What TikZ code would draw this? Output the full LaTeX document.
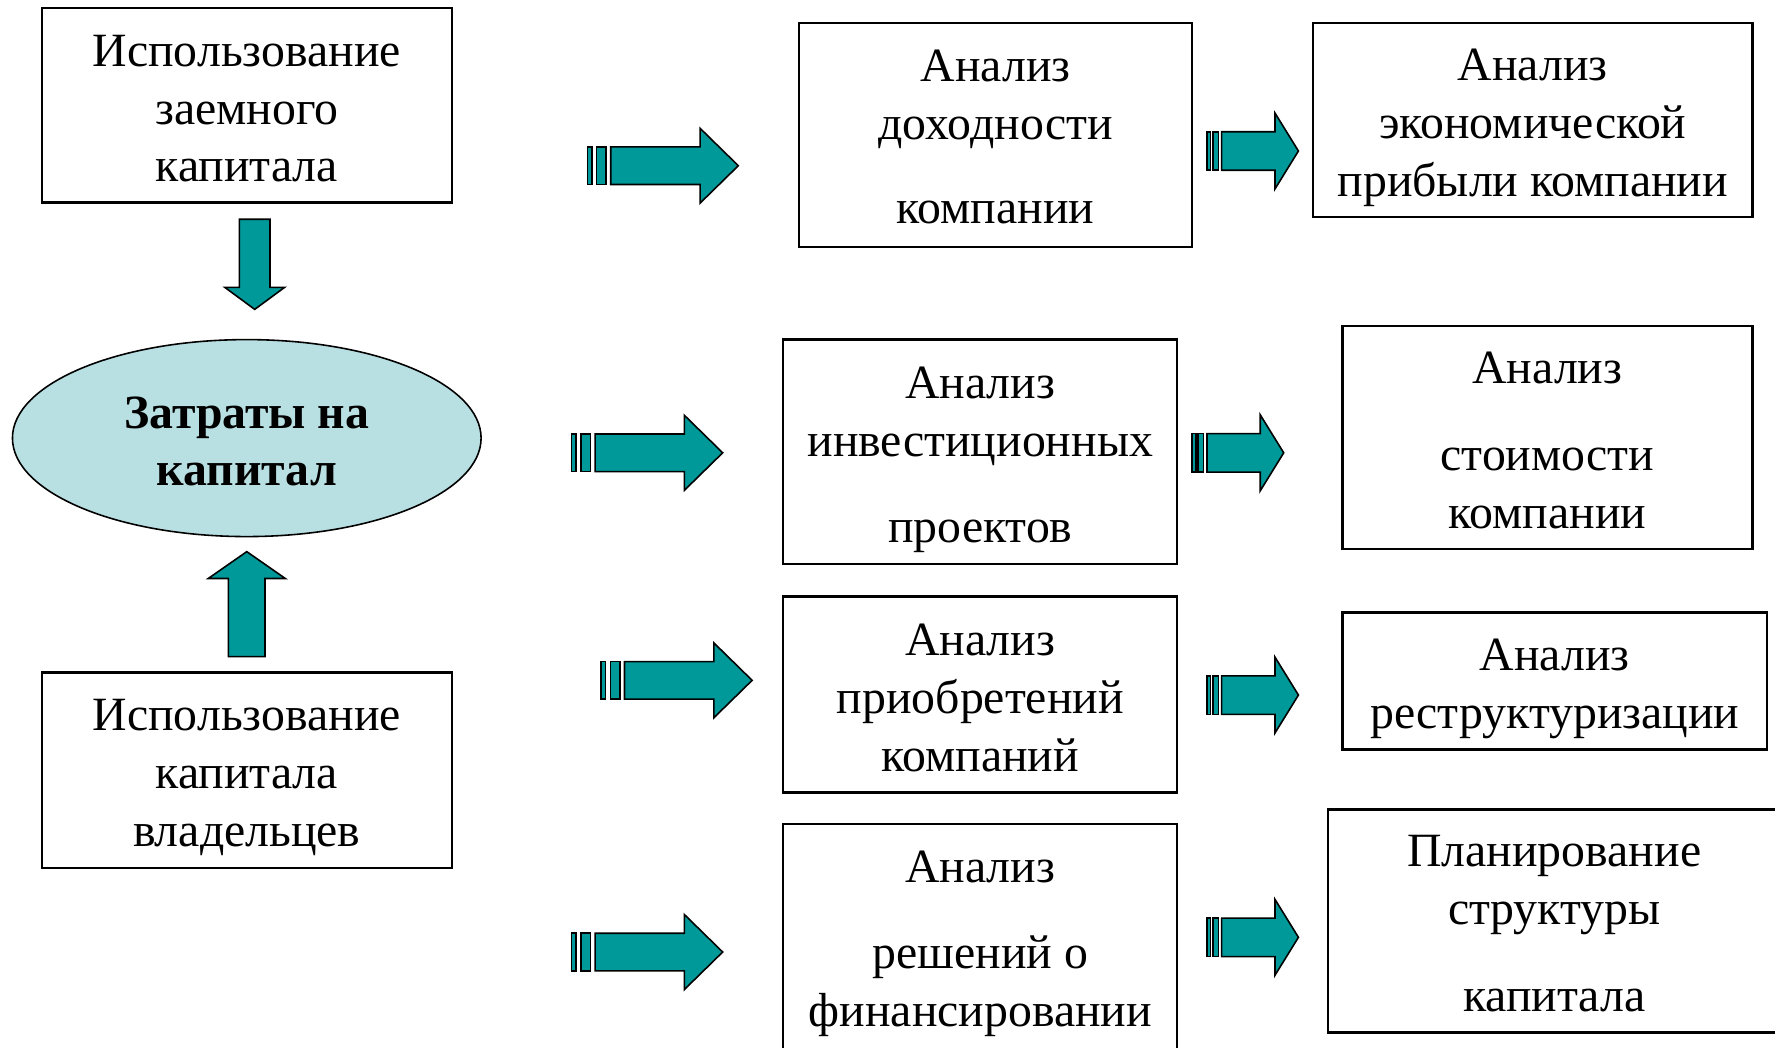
\documentclass[tikz,border=0pt]{standalone}
\usepackage{fontspec}
\setmainfont{Liberation Serif}
\usetikzlibrary{shapes.geometric}
\definecolor{tealA}{RGB}{0,153,153}
\definecolor{ellfill}{RGB}{184,224,227}
\newcommand\bigarr[2]{%
  \begin{scope}[shift={(#1,#2)}]
    \draw[blk] (0,-16.6) rectangle (4,16.6);
    \draw[blk] (8.3,-16.6) rectangle (16.5,16.6);
    \draw[blk] (20.7,-16.6) -- (99.6,-16.6) -- (99.6,-33.1) -- (133.4,0) -- (99.6,33.1) -- (99.6,16.6) -- (20.7,16.6) -- cycle;
  \end{scope}}
\newcommand\smallarr[2]{%
  \begin{scope}[shift={(#1,#2)}]
    \draw[blk] (0,-17) rectangle (3.5,17);
    \draw[blk] (5.3,-17) rectangle (10.3,17);
    \draw[blk] (13.2,-17) -- (60.3,-17) -- (60.3,-33.5) -- (81,0) -- (60.3,33.5) -- (60.3,17) -- (13.2,17) -- cycle;
  \end{scope}}
\begin{document}
\begin{tikzpicture}[x=0.5pt,y=-0.5pt,
  box/.style={draw, line width=1pt, inner sep=0pt},
  txt/.style={align=center, inner sep=0pt, font=\fontsize{21.1}{25.5}\selectfont},
  blk/.style={fill=tealA, draw=black, line width=0.7pt, line join=miter}]
\clip (0,0) rectangle (1568,925);
% left column
\node[box, minimum width=181pt, minimum height=86pt] (zaem) at (218,93) {};
\node[txt] (zaemt) at ([yshift=-1.5pt]zaem.center) {Использование\\заемного\\капитала};
\node[box, minimum width=181pt, minimum height=86.5pt] (vlad) at (218,680.5) {};
\node[txt] (vladt) at ([yshift=-3.2pt]vlad.center) {Использование\\капитала\\владельцев};
\node[draw, line width=0.7pt, ellipse, fill=ellfill, minimum width=207pt, minimum height=87pt,
  inner sep=0pt] (cost) at (218,387) {};
\node[txt, font=\fontsize{21.1}{25.5}\selectfont\bfseries] (costt) at ([yshift=-1.5pt]cost.center) {Затраты на\\капитал};
% vertical block arrows
\draw[blk] (211.5,193.7) -- (238.5,193.7) -- (238.5,253.8) -- (251.5,253.8) -- (225,273.3) -- (198.5,253.8) -- (211.5,253.8) -- cycle;
\draw[blk] (201.7,580) -- (234.1,580) -- (234.1,511) -- (252,511) -- (218,487.3) -- (184,511) -- (201.7,511) -- cycle;
% middle column
\node[box, minimum width=173.5pt, minimum height=99pt] (a1) at (879.5,119) {};
\node[txt] (a1t) at ([yshift=-1pt]a1.center) {Анализ\\доходности\\[11.5pt]компании};
\node[box, minimum width=174pt, minimum height=99pt] (a2) at (866,399) {};
\node[txt] (a2t) at ([yshift=-3.5pt]a2.center) {Анализ\\инвестиционных\\[12.5pt]проектов};
\node[box, minimum width=174pt, minimum height=86.5pt] (a3) at (866,613.5) {};
\node[txt] (a3t) at ([yshift=-1.5pt]a3.center) {Анализ\\приобретений\\компаний};
\node[box, minimum width=174pt, minimum height=102pt] (a4) at (866,830) {};
\node[txt] (a4t) at ([yshift=-2pt]a4.center) {Анализ\\[12.5pt]решений о\\финансировании};
% right column
\node[box, minimum width=194pt, minimum height=86pt] (b1) at (1354,106) {};
\node[txt] (b1t) at ([yshift=-3.5pt]b1.center) {Анализ\\экономической\\прибыли компании};
\node[box, minimum width=181pt, minimum height=98.5pt] (b2) at (1367,386.5) {};
\node[txt] (b2t) at ([yshift=-1.2pt]b2.center) {Анализ\\[13pt]стоимости\\компании};
\node[box, minimum width=187.5pt, minimum height=60.5pt] (b3) at (1373.5,601.5) {};
\node[txt] (b3t) at ([yshift=-3.5pt]b3.center) {Анализ\\реструктуризации};
\node[box, minimum width=200pt, minimum height=98.5pt] (b4) at (1373,813.5) {};
\node[txt] (b4t) at ([yshift=-1.2pt]b4.center) {Планирование\\структуры\\[13pt]капитала};
% striped arrows
\bigarr{518.8}{146.4}
\bigarr{505}{400}
\bigarr{531}{601}
\bigarr{505}{841}
\smallarr{1066}{133.4}
\smallarr{1053}{400}
\smallarr{1066}{614}
\smallarr{1066}{828}
\end{tikzpicture}
\end{document}
